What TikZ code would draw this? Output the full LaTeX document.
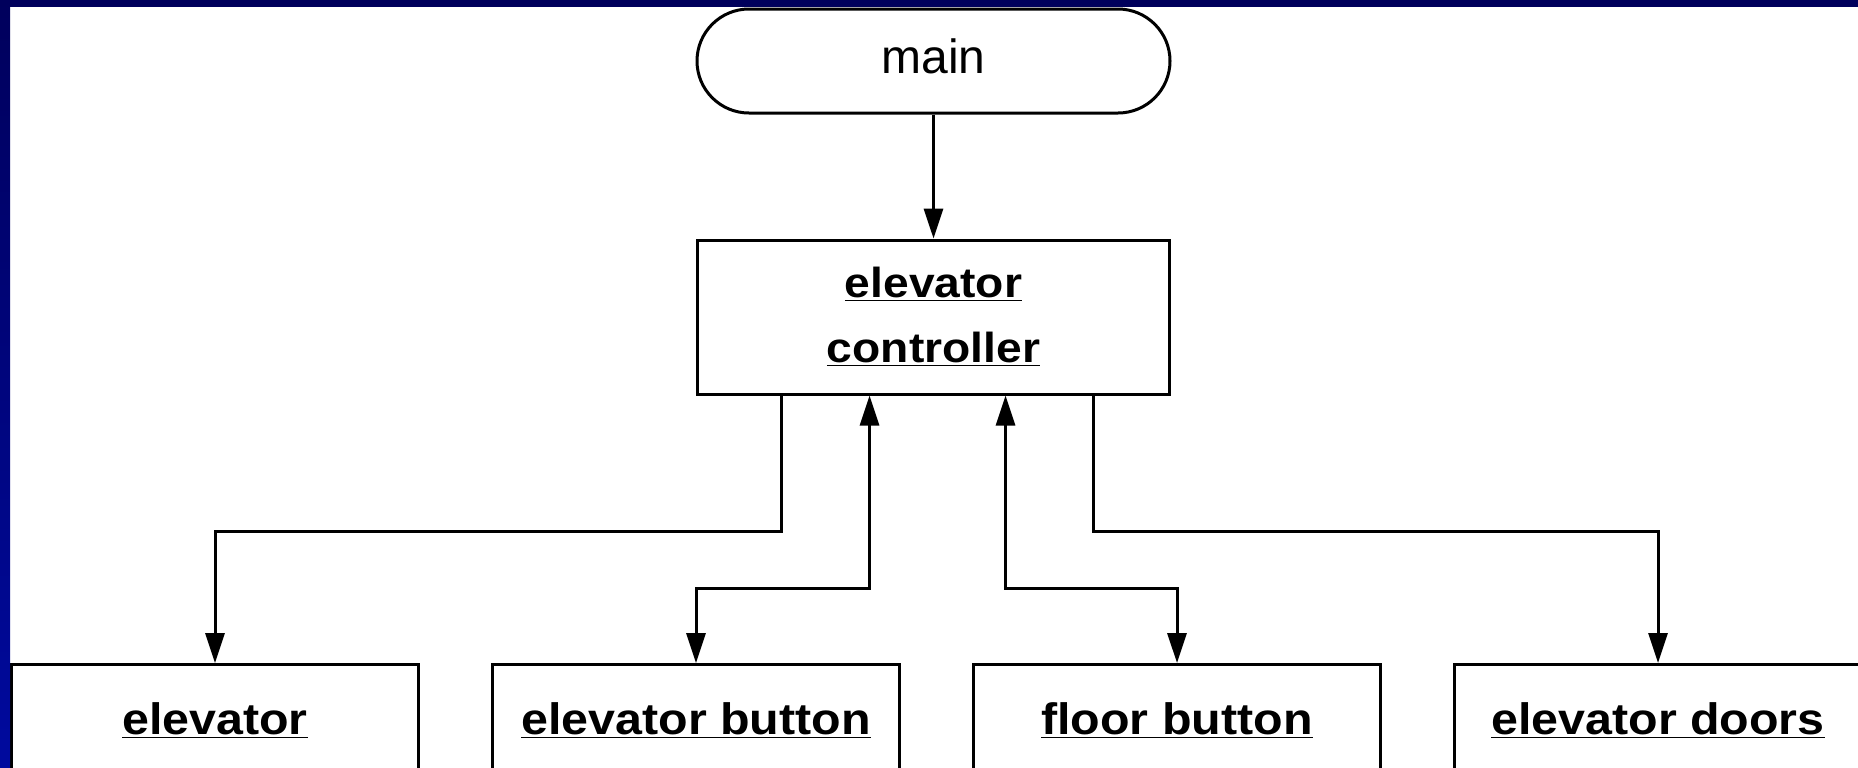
\documentclass[tikz,border=0pt]{standalone}
\usepackage{fontspec}
\setmainfont{Liberation Sans}
\newfontfamily\boxfont[FakeStretch=1.1]{Liberation Sans}
\usetikzlibrary{arrows.meta, positioning}
\definecolor{sframe}{HTML}{00005C}
\definecolor{sframelow}{HTML}{000A9E}
\tikzstyle{terminal} = [rectangle, rounded corners=26pt, draw, line width=1.5pt, minimum width=236.5pt, minimum height=52pt, text depth=5pt, font=\fontsize{24}{28}\selectfont]
\tikzstyle{control} = [rectangle, draw, line width=1.5pt, minimum width=236pt, minimum height=77pt, align=center, font=\boxfont\bfseries\fontsize{21}{32.5}\selectfont]
\tikzstyle{module} = [rectangle, draw, line width=1.5pt, minimum width=203.5pt, minimum height=56pt, anchor=north, font=\boxfont\bfseries\fontsize{22}{26}\selectfont]
\tikzstyle{call} = [line width=1.5pt, -{Triangle[length=15pt,width=9.5pt]}]
\tikzstyle{both} = [line width=1.5pt, {Triangle[length=15pt,width=9.5pt]}-{Triangle[length=15pt,width=9.5pt]}]

\begin{document}
\begin{tikzpicture}[node distance=35.5pt]
  \useasboundingbox (0,0) rectangle (929pt,-383.5pt);
  \clip (0,0) rectangle (929pt,-383.5pt);
  \fill[white] (0,0) rectangle (929pt,-383.5pt);
  % call tree
  \node (main) [terminal] at (466.75pt,-30.5pt) {main};
  \node (ctrl) [control, below=62pt of main] {\underline{elevator}\\\underline{controller}};
  \node (elev) [module] at (107.5pt,-331.5pt) {\underline{elevator}};
  \node (ebtn) [module, right= of elev] {\underline{elevator button}};
  \node (fbtn) [module, right= of ebtn] {\underline{floor button}};
  \node (door) [module, right= of fbtn] {\underline{elevator doors}};
  \draw [call] (main) -- (ctrl);
  \draw [call] ([xshift=-76pt]ctrl.south) -- ++(0,-67.75pt) -| (elev.north);
  \draw [both] ([xshift=-32pt]ctrl.south) -- ++(0,-96.5pt) -| (ebtn.north);
  \draw [both] ([xshift=36pt]ctrl.south) -- ++(0,-96.5pt) -| (fbtn.north);
  \draw [call] ([xshift=80pt]ctrl.south) -- ++(0,-67.75pt) -| (door.north);
  % slide frame
  \shade[top color=sframe, bottom color=sframelow] (0,0) rectangle (5pt,-383.5pt);
  \fill[sframe] (0,0) rectangle (929pt,-3.5pt);
\end{tikzpicture}
\end{document}
